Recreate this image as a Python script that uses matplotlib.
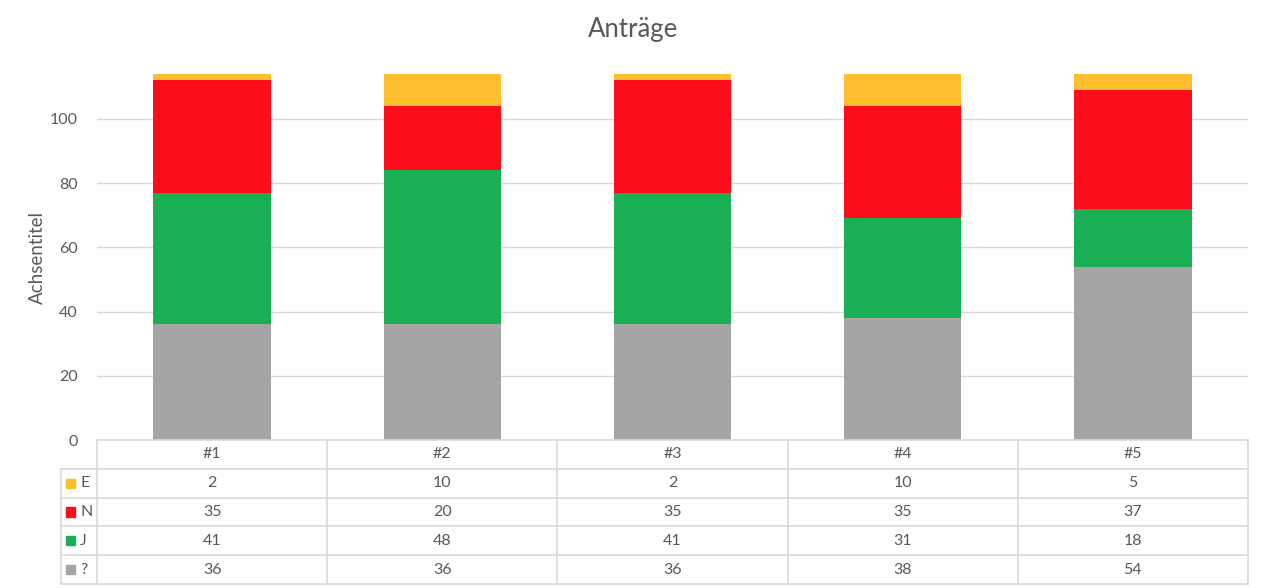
import matplotlib.pyplot as plt
from matplotlib.patches import Rectangle

plt.rcParams['font.family'] = ['Lato', 'DejaVu Sans']

# Data
runs = ['#1', '#2', '#3', '#4', '#5']
unknown = [36, 36, 36, 38, 54]   # ?
yes = [41, 48, 41, 31, 18]       # J
no = [35, 20, 35, 35, 37]        # N
abstain = [2, 10, 2, 10, 5]      # E

series = [('?', unknown, '#A5A5A5'),
          ('J', yes, '#1AAF54'),
          ('N', no, '#FC0D1B'),
          ('E', abstain, '#FDBF2D')]

text_col = '#595959'
grid_col = '#D9D9D9'
W, H = 1268, 588

fig = plt.figure(figsize=(W / 100, H / 100), dpi=100)

# main chart area in pixels
x0, x1 = 97, 1248
y_zero, y_top = 440, 74
ax = fig.add_axes([x0 / W, 1 - y_zero / H, (x1 - x0) / W, (y_zero - y_top) / H])

x = list(range(len(runs)))
bottom = [0] * len(runs)
for name, vals, col in series:
    ax.bar(x, vals, bottom=bottom, width=0.51, color=col, zorder=3)
    bottom = [b + v for b, v in zip(bottom, vals)]

ax.set_xlim(-0.5, len(runs) - 0.5)
ax.set_ylim(0, max(bottom))
ax.set_yticks(range(0, 101, 20))
ax.set_xticks([])
ax.grid(axis='y', color=grid_col, linewidth=1.0, zorder=0)
for s in ax.spines.values():
    s.set_visible(False)
ax.tick_params(axis='y', length=0, pad=14, labelsize=11.5, labelcolor=text_col)
ax.set_ylabel('Achsentitel', fontsize=13.5, color=text_col)
ax.yaxis.set_label_coords((46 - x0) / (x1 - x0), 0.5)
fig.text(633 / W, 1 - 29 / H, 'Anträge', ha='center', va='center',
         fontsize=18.5, color=text_col)

# data table below
tx0, ty1 = 61, 584
unit = (x1 - x0) / len(runs)
left_ext = (x0 - tx0) / unit
tax = fig.add_axes([tx0 / W, 1 - ty1 / H, (x1 - tx0) / W, (ty1 - y_zero) / H])
tax.set_xlim(-0.5 - left_ext, len(runs) - 0.5)
tax.set_ylim(5, 0)
tax.axis('off')

lw = 1.2
xl = -0.5 - left_ext
xr = len(runs) - 0.5
# horizontal lines
tax.plot([-0.5, xr], [0, 0], color=grid_col, lw=lw, clip_on=False)
for r in range(1, 6):
    tax.plot([xl, xr], [r, r], color=grid_col, lw=lw, clip_on=False)
# vertical lines
tax.plot([xl, xl], [1, 5], color=grid_col, lw=lw, clip_on=False)
for c in range(len(runs) + 1):
    tax.plot([c - 0.5, c - 0.5], [0, 5], color=grid_col, lw=lw, clip_on=False)

for i, r in enumerate(runs):
    tax.text(i, 0.5, r, ha='center', va='center', fontsize=11.5, color=text_col)

table_rows = series[::-1]  # E, N, J, ?
for row, (name, vals, col) in enumerate(table_rows, start=1):
    for i, v in enumerate(vals):
        tax.text(i, row + 0.5, str(v), ha='center', va='center',
                 fontsize=11.5, color=text_col)
    sq = 9 / unit
    tax.add_patch(Rectangle((xl + 5 / unit, row + 0.5 - 0.16), sq, 0.32,
                            color=col, clip_on=False))
    tax.text(xl + 19 / unit, row + 0.5, name, ha='left', va='center',
             fontsize=11.5, color=text_col)

fig.savefig('out.png', dpi=100)
